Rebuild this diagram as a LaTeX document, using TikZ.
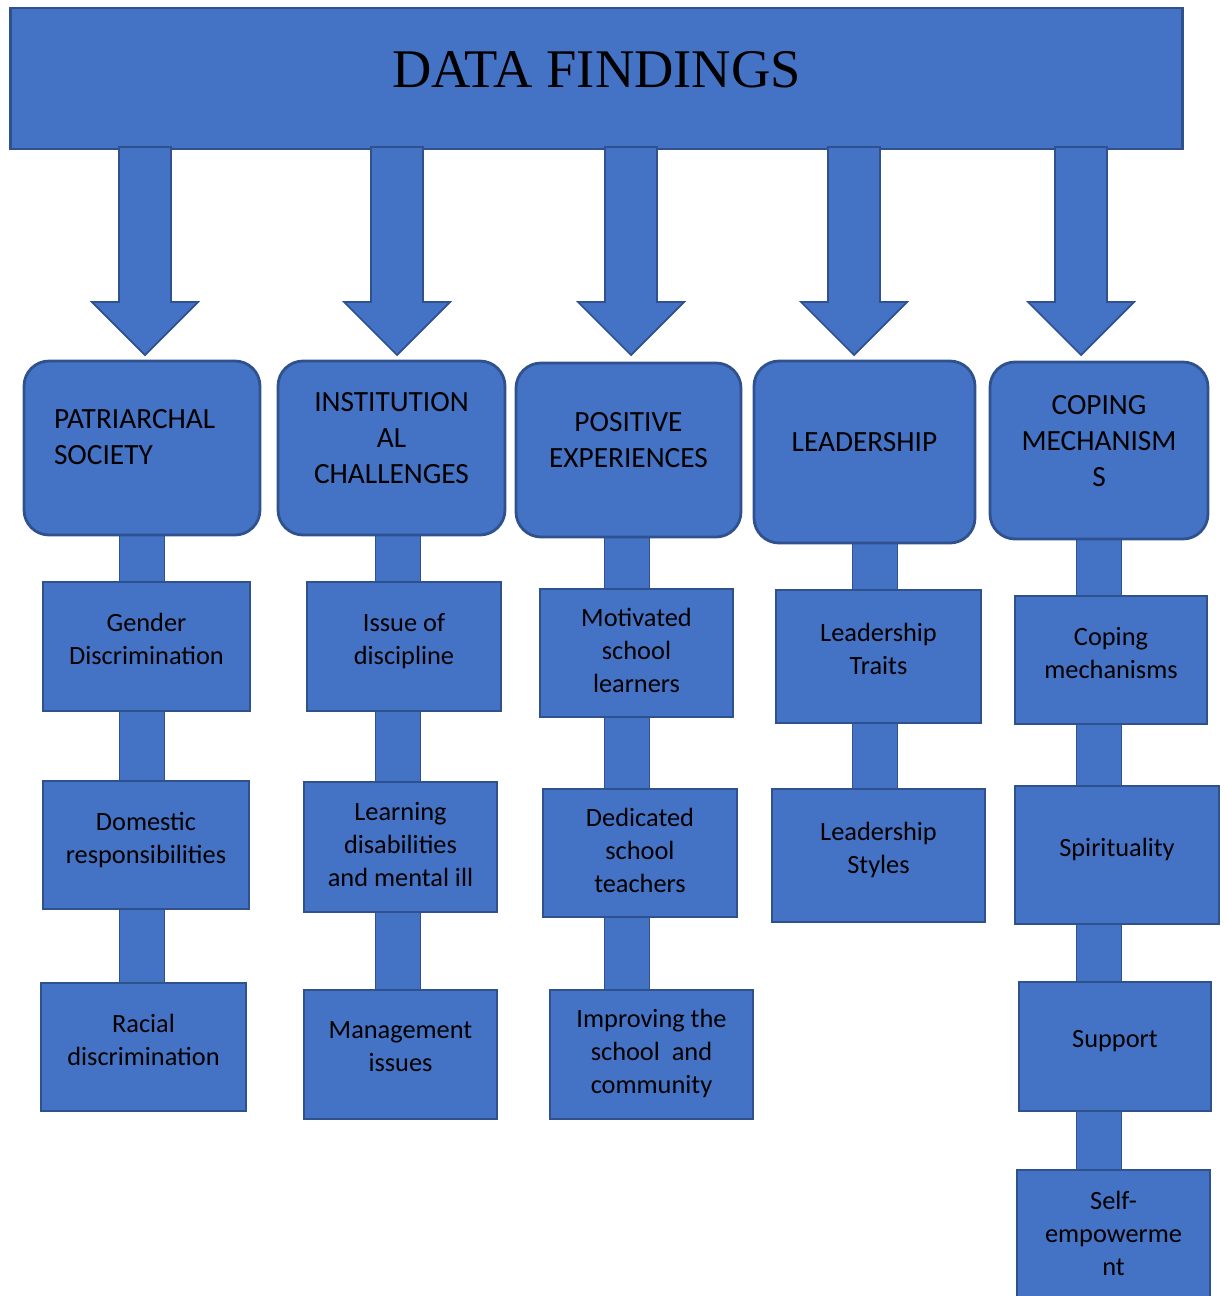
\documentclass[tikz,border=0pt]{standalone}
\usepackage{fontspec}
\setmainfont{Carlito}
\newfontfamily\titlefont{Liberation Serif}
\usepackage{xcolor}
\usetikzlibrary{backgrounds}
\definecolor{boxblue}{HTML}{4472C4}
\definecolor{boxline}{HTML}{2F528F}

\begin{document}
\begin{tikzpicture}[x=0.02cm,
					y=-0.02cm,
					line width=1.6pt,
					title node/.style={rectangle,draw=boxline,fill=boxblue,minimum width=23.46cm,minimum height=2.82cm,font=\titlefont\fontsize{31}{37}\selectfont,text depth=0.38cm},
					head node/.style={rectangle,rounded corners=0.5cm,draw=boxline,fill=boxblue,align=center,font=\fontsize{16.7}{20.5}\selectfont,text depth=0.4cm},
					sub node/.style={rectangle,draw=boxline,fill=boxblue,align=center,font=\fontsize{15}{18.8}\selectfont,text depth=0.3cm},
					bar/.style={draw=boxline,line width=0.8pt,double=boxblue,double distance=0.88cm},
					block arrow/.style={draw=boxline,fill=boxblue,line width=1pt,line join=miter}]

  \useasboundingbox (0,0) rectangle (1226,1296);
  \clip (0,0) rectangle (1226,1296);

  \node[title node] (title) at (596.5,78.5) {DATA FINDINGS};

  \foreach \x in {145,397,631,854,1081}
    \draw[block arrow] ({\x-26},147) -- ({\x+26},147) -- ({\x+26},302) -- ({\x+53},302)
      -- (\x,355) -- ({\x-53},302) -- ({\x-26},302) -- cycle;

  % themes
  \node[head node,minimum width=4.72cm,minimum height=3.48cm,align=left,text width=3.52cm,text depth=1.18cm] (p) at (142,448) {PATRIARCHAL\\SOCIETY};
  \node[head node,minimum width=4.54cm,minimum height=3.48cm] (i) at (391.5,448) {INSTITUTION\\AL\\CHALLENGES};
  \node[head node,minimum width=4.50cm,minimum height=3.48cm] (e) at (628.5,450) {POSITIVE\\EXPERIENCES};
  \node[head node,minimum width=4.42cm,minimum height=3.64cm] (l) at (864.5,452) {LEADERSHIP};
  \node[head node,minimum width=4.36cm,minimum height=3.54cm] (c) at (1099,450.5) {COPING\\MECHANISM\\S};

  % sub-themes
  \node[sub node,minimum width=4.14cm,minimum height=2.58cm] (p1) at (146.5,646.5) {Gender\\Discrimination};
  \node[sub node,minimum width=4.12cm,minimum height=2.56cm] (p2) at (146,845) {Domestic\\responsibilities};
  \node[sub node,minimum width=4.10cm,minimum height=2.56cm] (p3) at (143.5,1047) {Racial\\discrimination};

  \node[sub node,minimum width=3.88cm,minimum height=2.58cm] (i1) at (404,646.5) {Issue of\\discipline};
  \node[sub node,minimum width=3.86cm,minimum height=2.60cm,text depth=0.12cm] (i2) at (400.5,847) {Learning\\disabilities\\and mental ill};
  \node[sub node,minimum width=3.86cm,minimum height=2.58cm] (i3) at (400.5,1054.5) {Management\\issues};

  \node[sub node,minimum width=3.86cm,minimum height=2.56cm,text depth=0.12cm] (e1) at (636.5,653) {Motivated\\school\\learners};
  \node[sub node,minimum width=3.88cm,minimum height=2.56cm,text depth=0.12cm] (e2) at (640,853) {Dedicated\\school\\teachers};
  \node[sub node,minimum width=4.06cm,minimum height=2.58cm,text depth=0.12cm] (e3) at (651.5,1054.5) {Improving the\\school~~and\\community};

  \node[sub node,minimum width=4.10cm,minimum height=2.66cm] (l1) at (878.5,656.5) {Leadership\\Traits};
  \node[sub node,minimum width=4.26cm,minimum height=2.66cm] (l2) at (878.5,855.5) {Leadership\\Styles};

  \node[sub node,minimum width=3.84cm,minimum height=2.56cm] (c1) at (1111,660) {Coping\\mechanisms};
  \node[sub node,minimum width=4.08cm,minimum height=2.76cm] (c2) at (1117,855) {Spirituality};
  \node[sub node,minimum width=3.84cm,minimum height=2.58cm] (c3) at (1115,1046.5) {Support};
  \node[sub node,minimum width=3.86cm,minimum height=2.70cm,text depth=0.15cm] (c4) at (1113.5,1237.5) {Self-\\empowerme\\nt};

  \coordinate (colp) at (142,0);
  \coordinate (coli) at (398,0);
  \coordinate (cole) at (627,0);
  \coordinate (coll) at (875,0);
  \coordinate (colc) at (1099,0);

  \begin{pgfonlayer}{background}
  \foreach \a/\b/\k in {p/p1/p,p1/p2/p,p2/p3/p,i/i1/i,i1/i2/i,i2/i3/i,e/e1/e,e1/e2/e,e2/e3/e,l/l1/l,l1/l2/l,c/c1/c,c1/c2/c,c2/c3/c,c3/c4/c}
    \draw[bar] (col\k |- \a.south) -- (col\k |- \b.north);
  \end{pgfonlayer}
\end{tikzpicture}
\end{document}
